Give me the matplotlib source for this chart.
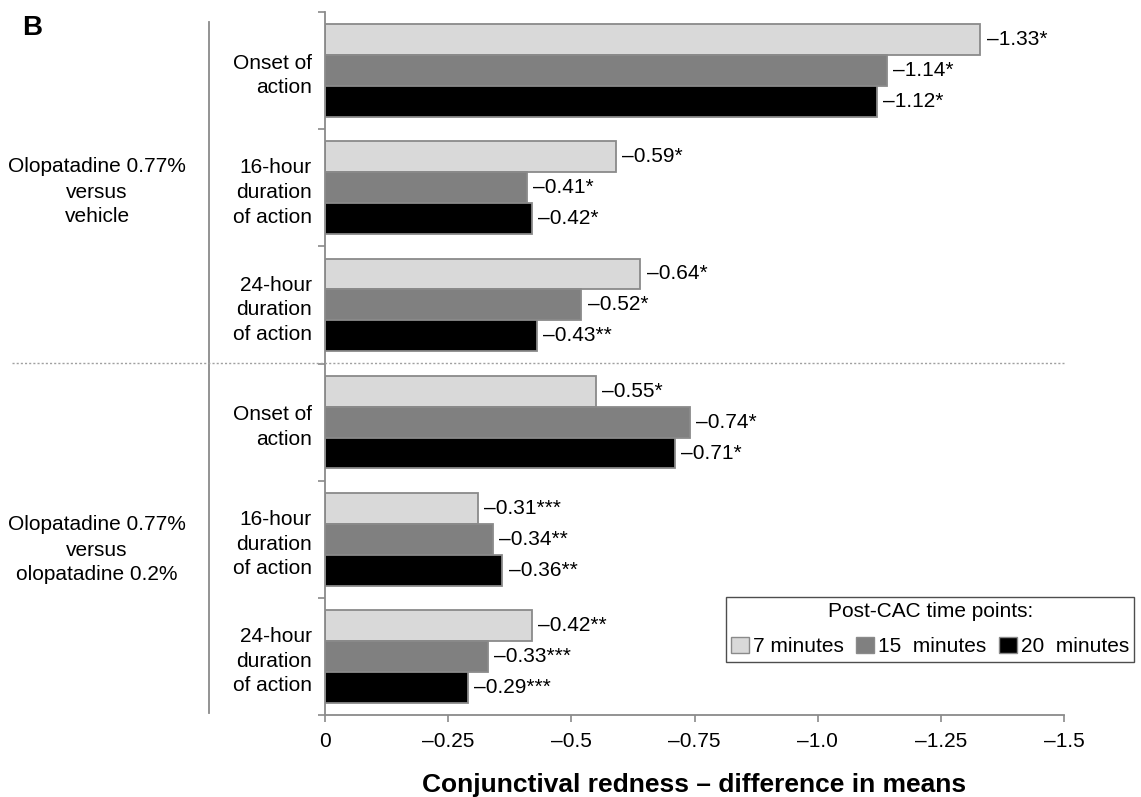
import numpy as np
import matplotlib
matplotlib.use("Agg")
import matplotlib.pyplot as plt
from matplotlib.patches import Patch
from matplotlib.lines import Line2D

plt.rcParams['font.family'] = ['Liberation Sans', 'DejaVu Sans']
plt.rcParams['font.size'] = 15

# data (magnitude of difference in means, shown as negative numbers on the axis)
outcomes = ['Onset of\naction', '16-hour\nduration\nof action', '24-hour\nduration\nof action',
            'Onset of\naction', '16-hour\nduration\nof action', '24-hour\nduration\nof action']
comparisons = ['Olopatadine 0.77%\nversus\nvehicle', 'Olopatadine 0.77%\nversus\nolopatadine 0.2%']
series_names = ['7 minutes', '15  minutes', '20  minutes']
min7 = [1.33, 0.59, 0.64, 0.55, 0.31, 0.42]
min15 = [1.14, 0.41, 0.52, 0.74, 0.34, 0.33]
min20 = [1.12, 0.42, 0.43, 0.71, 0.36, 0.29]
lab7 = ['–1.33*', '–0.59*', '–0.64*', '–0.55*', '–0.31***', '–0.42**']
lab15 = ['–1.14*', '–0.41*', '–0.52*', '–0.74*', '–0.34**', '–0.33***']
lab20 = ['–1.12*', '–0.42*', '–0.43**', '–0.71*', '–0.36**', '–0.29***']
xticks = [0, 0.25, 0.5, 0.75, 1.0, 1.25, 1.5]
xticklabels = ['0', '–0.25', '–0.5', '–0.75', '–1.0', '–1.25', '–1.5']

colors = ['#d9d9d9', '#808080', '#000000']
edge = '#8a8a8a'
W, H = 1141, 797

fig = plt.figure(figsize=(W / 100, H / 100), dpi=100)
ax = fig.add_axes([325 / W, 1 - 715 / H, (1064 - 325) / W, (715 - 12) / H])

y = np.arange(len(outcomes))
h = 0.264
for k, (vals, labs) in enumerate(zip([min7, min15, min20], [lab7, lab15, lab20])):
    pos = y + (k - 1) * h
    ax.barh(pos, vals, height=h, color=colors[k], edgecolor=edge, linewidth=1.3, zorder=2)
    for p, v, t in zip(pos, vals, labs):
        ax.text(v + 0.013, p, t, va='center', ha='left', fontsize=15)

ax.set_xlim(0, 1.5)
ax.set_ylim(len(outcomes) - 0.5, -0.5)
ax.set_xticks(xticks, xticklabels)
ax.set_yticks(np.arange(-0.5, len(outcomes)), [''] * (len(outcomes) + 1))
ax.set_yticks(y, outcomes, minor=True)
for t in ax.get_yticklabels(minor=True):
    t.set_linespacing(1.37)
ax.tick_params(axis='y', which='minor', length=0, pad=9.5, labelsize=15)
ax.tick_params(axis='y', which='major', length=5, color='#8a8a8a', width=1.2)
ax.tick_params(axis='x', length=5, color='#8a8a8a', width=1.2, pad=7, labelsize=15)
for s in ['top', 'right']:
    ax.spines[s].set_visible(False)
for s in ['left', 'bottom']:
    ax.spines[s].set_color('#8a8a8a')
    ax.spines[s].set_linewidth(1.3)

# comparison group labels and separators
fig.text(97 / W, 1 - 192 / H, comparisons[0], ha='center', va='center', fontsize=15, linespacing=1.4)
fig.text(97 / W, 1 - 550 / H, comparisons[1], ha='center', va='center', fontsize=15, linespacing=1.4)
fig.add_artist(Line2D([209 / W, 209 / W], [1 - 22 / H, 1 - 713 / H], color='#8a8a8a', lw=1.3))
fig.add_artist(Line2D([12 / W, 1064 / W], [1 - 363 / H, 1 - 363 / H], color='#a0a0a0', lw=1.0,
                      linestyle=(0, (1.5, 1.5))))

fig.text(22 / W, 1 - 35 / H, 'B', fontsize=20, fontweight='bold', va='baseline', ha='left')
fig.text(694.5 / W, 1 - 792 / H, 'Conjunctival redness – difference in means',
         fontsize=19, fontweight='bold', ha='center', va='baseline')

handles = [Patch(facecolor=c, edgecolor=edge, linewidth=1.0) for c in colors]
leg = fig.legend(handles, series_names, title='Post-CAC time points:', ncol=3,
                 loc='upper left', bbox_to_anchor=(726 / W, 1 - 597 / H),
                 fontsize=15, title_fontsize=15, frameon=True, fancybox=False,
                 handlelength=0.85, handleheight=0.85, handletextpad=0.2,
                 columnspacing=0.6, borderpad=0.25, labelspacing=0.75, borderaxespad=0)
leg.get_frame().set_edgecolor('#222222')
leg.get_frame().set_linewidth(1.0)

fig.savefig('out.png', dpi=100)
